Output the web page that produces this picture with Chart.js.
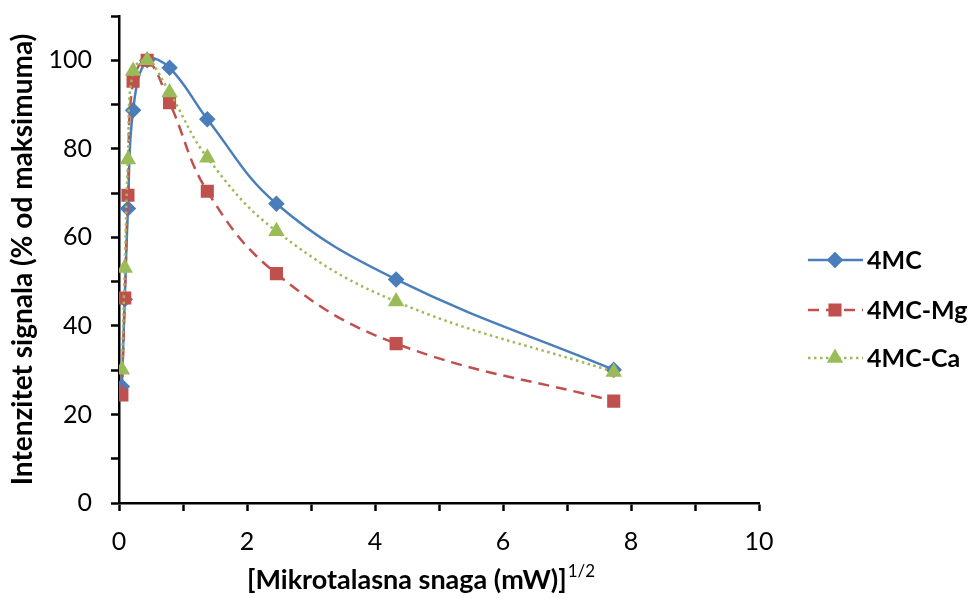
<!DOCTYPE html>
<html>
<head>
<meta charset="utf-8">
<script src="https://cdn.jsdelivr.net/npm/chart.js@4"></script>
<style>
  html, body { margin: 0; padding: 0; background: #fff; }
  #wrap { width: 974px; height: 598px; }
</style>
</head>
<body>
<div id="wrap"><canvas id="chart" width="974" height="598"></canvas></div>
<script>
// sqrt of microwave power (x) and normalised signal for each sample
const xValues = [0.045, 0.09, 0.14, 0.22, 0.44, 0.79, 1.38, 2.46, 4.33, 7.73];
const mcValues = [26.3, 46, 66.5, 88.7, 100, 98.3, 86.7, 67.6, 50.5, 30.1];
const mgValues = [24.4, 46.3, 69.5, 95.3, 100, 90.4, 70.4, 51.8, 36, 23];
const caValues = [30.1, 53.1, 77.6, 97.6, 100, 92.7, 78, 61.4, 45.5, 29.6];
const seriesLabels = ["4MC", "4MC-Mg", "4MC-Ca"];
const xTickLabels = [0, 2, 4, 6, 8, 10];
const yTickLabels = [0, 20, 40, 60, 80, 100];

const FONT = "Lato, 'Open Sans', sans-serif";

function toPoints(ys) {
  return xValues.map((x, i) => ({ x: x, y: ys[i] }));
}

// legend with line + marker, like the Excel one
const legendPlugin = {
  id: "sideLegend",
  afterDraw(chart) {
    const ctx = chart.ctx;
    const area = chart.chartArea;
    const x0 = area.right + 49;
    const rows = [260, 310, 358];
    chart.data.datasets.forEach((ds, i) => {
      const y = rows[i];
      ctx.save();
      ctx.strokeStyle = ds.borderColor;
      ctx.lineWidth = ds.borderWidth;
      ctx.setLineDash(ds.borderDash || []);
      ctx.beginPath();
      ctx.moveTo(x0, y);
      ctx.lineTo(x0 + 55, y);
      ctx.stroke();
      ctx.setLineDash([]);
      ctx.fillStyle = ds.pointBackgroundColor;
      ctx.strokeStyle = ds.pointBorderColor;
      Chart.helpers.drawPoint(ctx, {
        pointStyle: ds.pointStyle,
        radius: ds.pointRadius,
        rotation: 0,
        borderWidth: 1
      }, x0 + 27, y);
      ctx.fillStyle = "#000";
      ctx.font = "bold 25px " + FONT;
      ctx.textAlign = "left";
      ctx.textBaseline = "middle";
      ctx.fillText(ds.label, x0 + 59, y + 1);
      ctx.restore();
    });
  }
};

// x axis title with the 1/2 superscript
const xTitlePlugin = {
  id: "xTitle",
  afterDraw(chart) {
    const ctx = chart.ctx;
    const main = "[Mikrotalasna snaga (mW)]";
    const sup = "1/2";
    ctx.save();
    ctx.fillStyle = "#000";
    ctx.textBaseline = "alphabetic";
    ctx.textAlign = "left";
    ctx.font = "bold 27px " + FONT;
    const wMain = ctx.measureText(main).width;
    const start = 247;
    ctx.fillText(main, start, 589);
    ctx.font = "17px " + FONT;
    ctx.fillText(sup, start + wMain + 1, 577);
    ctx.restore();
  }
};

const ctx = document.getElementById("chart").getContext("2d");

new Chart(ctx, {
  type: "line",
  data: {
    datasets: [
      {
        label: seriesLabels[0],
        data: toPoints(mcValues),
        borderColor: "#4A7EBB",
        borderWidth: 2.5,
        pointStyle: "rectRot",
        pointRadius: 6.5,
        pointBackgroundColor: "#4A7EBB",
        pointBorderColor: "#4A7EBB",
        order: 2
      },
      {
        label: seriesLabels[1],
        data: toPoints(mgValues),
        borderColor: "#C0504D",
        borderWidth: 2.5,
        borderDash: [11, 7],
        pointStyle: "rect",
        pointRadius: 7.5,
        pointBackgroundColor: "#C0504D",
        pointBorderColor: "#C0504D",
        order: 1
      },
      {
        label: seriesLabels[2],
        data: toPoints(caValues),
        borderColor: "#9BBB59",
        borderWidth: 2.5,
        borderDash: [2.5, 3.5],
        pointStyle: "triangle",
        pointRadius: 7,
        pointBackgroundColor: "#9BBB59",
        pointBorderColor: "#9BBB59",
        order: 0
      }
    ]
  },
  options: {
    responsive: false,
    animation: false,
    layout: {
      padding: { top: 16, right: 215, left: 0, bottom: 0 }
    },
    elements: {
      line: { tension: 0.4, fill: false }
    },
    plugins: {
      legend: { display: false },
      tooltip: { enabled: false }
    },
    scales: {
      x: {
        type: "linear",
        min: 0,
        max: 10,
        afterFit(scale) {
          scale.height = 95;
          scale.paddingLeft = 0;
          scale.paddingRight = 0;
        },
        ticks: {
          stepSize: 1,
          padding: 16,
          color: "#000",
          font: { family: FONT, size: 25 },
          maxRotation: 0,
          callback: (v) => (xTickLabels.includes(v) ? String(v) : "")
        },
        grid: {
          drawOnChartArea: false,
          drawTicks: true,
          tickLength: 8,
          tickColor: "#000",
          tickWidth: 2.5
        },
        border: { color: "#000", width: 2.5 }
      },
      y: {
        min: 0,
        max: 110,
        afterFit(scale) {
          scale.width = 119;
          scale.paddingTop = 0;
          scale.paddingBottom = 0;
        },
        ticks: {
          stepSize: 10,
          padding: 19,
          color: "#000",
          font: { family: FONT, size: 25 },
          callback: (v) => (yTickLabels.includes(v) ? String(v) : "")
        },
        grid: {
          drawOnChartArea: false,
          drawTicks: true,
          tickLength: 8,
          tickColor: "#000",
          tickWidth: 2.5
        },
        border: { color: "#000", width: 2.5 },
        title: {
          display: true,
          text: "Intenzitet signala (% od maksimuma)",
          color: "#000",
          font: { family: FONT, size: 28, weight: "bold" },
          padding: { top: 6, bottom: 0 }
        }
      }
    }
  },
  plugins: [legendPlugin, xTitlePlugin]
});
</script>
</body>
</html>
